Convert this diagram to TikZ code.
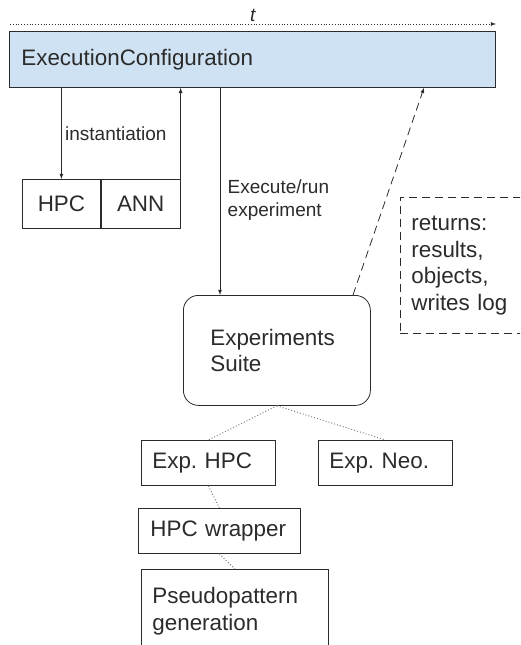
\documentclass[tikz,border=0pt]{standalone}
\usepackage{fontspec}
\setmainfont{Liberation Sans}
\usepackage{tikz}
\usetikzlibrary{arrows,positioning}
\definecolor{confblue}{HTML}{CFE2F3}
\definecolor{ink}{HTML}{2B2B2B}
\frenchspacing

\begin{document}
\begin{tikzpicture}[x=1pt, y=-1pt, >=latex, color=ink, line width=0.8pt,
  font=\fontsize{22.4}{26.5}\selectfont,
  box/.style={draw, anchor=north west, align=left, inner xsep=11pt, minimum height=45pt},
  cell/.style={draw, anchor=north west, minimum width=78pt, minimum height=49pt},
  lbl/.style={font=\fontsize{19}{23}\selectfont, align=left},
  ret/.style={dash pattern=on 8pt off 5pt},
  link/.style={gray, dotted, line width=1pt}]
  \useasboundingbox (0,0) rectangle (520,645);
  \clip (0,0) rectangle (520,645);

  \coordinate (t0) at (10,24);
  \coordinate (t1) at (496,24);
  \draw[dotted, ->] (t0) -- node[lbl, above, inner sep=2pt] {\textit{t}} (t1);

  \node[box, fill=confblue, text width=462pt, inner xsep=12pt, minimum height=56pt] (ec) at (9,31) {ExecutionConfiguration};

  \node[cell] (hpc) at (22,179) {HPC};
  \node[cell, right=0pt of hpc, minimum width=79pt] (ann) {ANN};

  \node[box, rounded corners=15pt, text width=133pt, inner xsep=27pt, minimum height=110pt] (es) at (183,295) {Experiments\\Suite};
  \node[box, ret, text width=120pt, minimum height=136pt] (retbox) at (400,197) {returns:\\results,\\objects,\\writes log};

  \node[box, text width=112pt] (exphpc) at (141,440) {Exp. HPC};
  \node[box, text width=112pt] (expneo) at (318,440) {Exp. Neo.};
  \node[box, text width=138pt, inner xsep=12pt] (wrap) at (138,508) {HPC wrapper};
  \node[box, minimum width=187pt, minimum height=100pt] (pseudo) at (141,569) {};
  \node[anchor=north west, align=left, inner sep=0pt] (pseudotxt) at (152,587) {Pseudopattern\\generation};

  % calls and returns
  \draw[->] (ec.south -| hpc.north) -- node[lbl, right] {instantiation} (hpc.north);
  \draw[->] (ann.north east) -- (ann.north east |- ec.south);
  \draw[->] (ec.south -| 220,0) -- node[lbl, right, pos=0.54, xshift=4pt] {Execute/run\\experiment} (es.north -| 220,0);
  \draw[->, ret] (es.north -| 353,0) -- (ec.south -| 424,0);

  % composition
  \draw[link] (es.south) -- (exphpc.north)
              (es.south) -- (expneo.north)
              (exphpc.south) -- (wrap.north)
              (wrap.south) -- (pseudo.north);
\end{tikzpicture}
\end{document}
